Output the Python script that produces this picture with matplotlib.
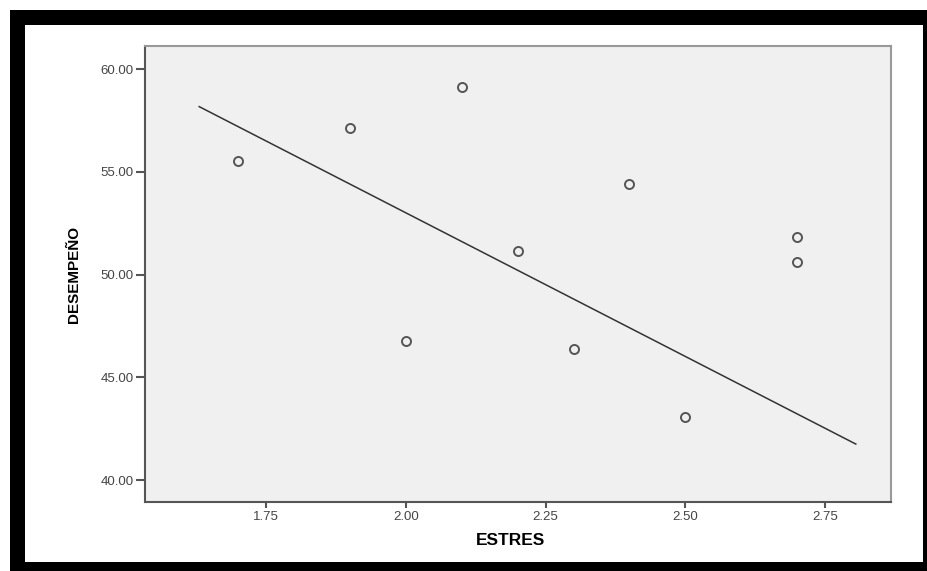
import matplotlib
matplotlib.use("Agg")
import matplotlib.pyplot as plt
from matplotlib.patches import Rectangle
from matplotlib.ticker import FormatStrFormatter

# datos
estres = [1.70, 1.90, 2.00, 2.10, 2.20, 2.30, 2.40, 2.50, 2.70, 2.70]
desempeno = [55.52, 57.12, 46.75, 59.11, 51.13, 46.36, 54.42, 43.06, 51.83, 50.63]

# recta de ajuste (extremos)
fit_x = [1.63, 2.805]
fit_y = [58.17, 41.75]

x_ticks = [1.75, 2.00, 2.25, 2.50, 2.75]
y_ticks = [40.00, 45.00, 50.00, 55.00, 60.00]

W, H = 928, 571
plt.rcParams['font.family'] = ['Liberation Sans', 'DejaVu Sans']

fig = plt.figure(figsize=(W / 100, H / 100), dpi=100)
fig.patch.set_facecolor('white')

# marco negro alrededor de la imagen
def px_rect(x0, y0, x1, y1):
    return Rectangle((x0 / W, 1 - y1 / H), (x1 - x0) / W, (y1 - y0) / H,
                     transform=fig.transFigure, facecolor='black',
                     edgecolor='none', zorder=0)

for r in [px_rect(10, 10, 928, 25), px_rect(10, 10, 25, 571),
          px_rect(923, 10, 928, 571), px_rect(10, 562, 928, 571)]:
    fig.patches.append(r)

ax = fig.add_axes([145 / W, 1 - 502 / H, (891 - 145) / W, (502 - 46) / H])
ax.set_facecolor('#f0f0f0')

ax.plot(fit_x, fit_y, color='#333333', lw=1.1, zorder=2)
ax.plot(estres, desempeno, linestyle='none', marker='o', ms=6.5,
        mfc='none', mec='#555555', mew=1.4, zorder=3)

ax.set_xlim(1.533, 2.868)
ax.set_ylim(38.93, 61.12)
ax.set_xticks(x_ticks)
ax.set_yticks(y_ticks)
ax.xaxis.set_major_formatter(FormatStrFormatter('%.2f'))
ax.yaxis.set_major_formatter(FormatStrFormatter('%.2f'))

for side in ['left', 'bottom']:
    ax.spines[side].set_color('#555555')
    ax.spines[side].set_linewidth(1.5)
for side in ['top', 'right']:
    ax.spines[side].set_color('#999999')
    ax.spines[side].set_linewidth(1.5)

ax.tick_params(axis='x', length=4.5, width=1.5, color='#555555', pad=2,
               labelsize=9.5, labelcolor='#444444')
ax.tick_params(axis='y', length=6.5, width=1.5, color='#555555', pad=1.5,
               labelsize=9.5, labelcolor='#444444')

ax.set_xlabel('ESTRES', fontsize=12.5, fontweight='bold', va='center')
ax.xaxis.set_label_coords(0.49, -0.0855)
ax.set_ylabel('DESEMPEÑO', fontsize=11, fontweight='bold', va='center')
ax.yaxis.set_label_coords(-0.095, 0.498)

fig.savefig('out.png', dpi=100)
